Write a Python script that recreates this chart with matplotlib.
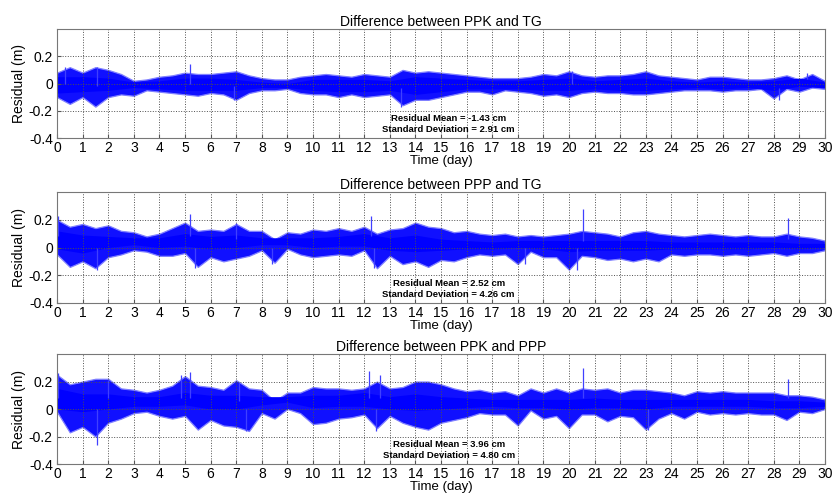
import numpy as np
import matplotlib.pyplot as plt

plt.rcParams['font.family'] = ['Liberation Sans', 'DejaVu Sans']

# half-day grid for the outer envelope, whole days for the dense core
days_half = np.arange(0, 30.01, 0.5)
days_full = np.arange(0, 31, 1)

titles = ['Difference between PPK and TG',
          'Difference between PPP and TG',
          'Difference between PPK and PPP']
stat_mean = ['-1.43', '2.52', '3.96']
stat_std = ['2.91', '4.26', '4.80']

# ---- PPK - TG ----
ppk_tg_hi = [0.08, 0.12, 0.08, 0.12, 0.10, 0.07, 0.02, 0.03, 0.05, 0.06,
             0.08, 0.07, 0.07, 0.08, 0.09, 0.06, 0.04, 0.03, 0.03, 0.05,
             0.06, 0.07, 0.06, 0.05, 0.07, 0.06, 0.05, 0.10, 0.08, 0.09,
             0.08, 0.07, 0.06, 0.05, 0.04, 0.04, 0.04, 0.05, 0.07, 0.06,
             0.09, 0.06, 0.05, 0.06, 0.06, 0.07, 0.09, 0.06, 0.05, 0.04,
             0.03, 0.05, 0.05, 0.04, 0.03, 0.03, 0.04, 0.06, 0.03, 0.07,
             0.02]
ppk_tg_lo = [-0.10, -0.15, -0.10, -0.17, -0.10, -0.08, -0.09, -0.05, -0.06, -0.07,
             -0.08, -0.09, -0.07, -0.08, -0.12, -0.07, -0.05, -0.05, -0.04, -0.07,
             -0.08, -0.08, -0.10, -0.08, -0.10, -0.09, -0.08, -0.16, -0.12, -0.12,
             -0.10, -0.08, -0.06, -0.06, -0.08, -0.05, -0.06, -0.07, -0.09, -0.08,
             -0.10, -0.07, -0.06, -0.07, -0.07, -0.08, -0.08, -0.07, -0.06, -0.05,
             -0.05, -0.05, -0.06, -0.05, -0.05, -0.04, -0.11, -0.04, -0.06, -0.03,
             -0.04]
ppk_tg_core_hi = [0.05, 0.05, 0.04, 0.01, 0.02, 0.04, 0.04, 0.03, 0.01, 0.00,
                  0.03, 0.03, 0.03, 0.02, 0.05, 0.04, 0.03, 0.02, 0.02, 0.03,
                  0.04, 0.02, 0.03, 0.04, 0.02, 0.01, 0.02, 0.01, 0.02, 0.04,
                  0.01]
ppk_tg_core_lo = [-0.07, -0.06, -0.05, -0.03, -0.04, -0.05, -0.05, -0.05, -0.03, -0.03,
                  -0.05, -0.06, -0.06, -0.05, -0.08, -0.06, -0.04, -0.04, -0.04, -0.05,
                  -0.05, -0.04, -0.05, -0.05, -0.04, -0.03, -0.04, -0.03, -0.05, -0.02,
                  -0.03]
ppk_tg_spike_day = [0.3, 1.55, 5.2, 6.9, 13.45, 20.1, 28.2, 29.3]
ppk_tg_spike_from = [0.0, -0.02, 0.0, -0.02, -0.03, 0.0, -0.03, 0.03]
ppk_tg_spike_to = [0.12, 0.12, 0.14, -0.12, -0.17, 0.095, -0.12, 0.075]

# ---- PPP - TG ----
ppp_tg_hi = [0.20, 0.15, 0.17, 0.14, 0.16, 0.12, 0.11, 0.08, 0.10, 0.14,
             0.18, 0.12, 0.13, 0.12, 0.17, 0.12, 0.12, 0.06, 0.11, 0.10,
             0.13, 0.12, 0.14, 0.12, 0.15, 0.10, 0.13, 0.14, 0.18, 0.15,
             0.14, 0.11, 0.12, 0.10, 0.09, 0.10, 0.08, 0.09, 0.08, 0.09,
             0.10, 0.12, 0.11, 0.10, 0.08, 0.11, 0.12, 0.10, 0.09, 0.08,
             0.09, 0.10, 0.09, 0.08, 0.09, 0.08, 0.08, 0.10, 0.08, 0.07,
             0.05]
ppp_tg_lo = [-0.05, -0.14, -0.10, -0.15, -0.07, -0.05, -0.02, -0.03, -0.06, -0.06,
             -0.04, -0.14, -0.07, -0.10, -0.08, -0.06, -0.02, -0.11, -0.01, -0.05,
             -0.07, -0.06, -0.05, -0.06, -0.02, -0.15, -0.06, -0.12, -0.10, -0.14,
             -0.09, -0.10, -0.07, -0.05, -0.06, -0.05, -0.12, -0.03, -0.07, -0.07,
             -0.16, -0.06, -0.07, -0.09, -0.08, -0.10, -0.08, -0.10, -0.05, -0.06,
             -0.05, -0.05, -0.06, -0.05, -0.06, -0.05, -0.04, -0.06, -0.04, -0.04,
             -0.02]
ppp_tg_core_hi = [0.12, 0.09, 0.08, 0.07, 0.07, 0.10, 0.08, 0.09, 0.07, 0.07,
                  0.07, 0.08, 0.10, 0.07, 0.09, 0.06, 0.05, 0.04, 0.05, 0.05,
                  0.05, 0.05, 0.05, 0.05, 0.04, 0.04, 0.04, 0.04, 0.04, 0.03,
                  0.03]
ppp_tg_core_lo = [-0.01, -0.04, 0.00, 0.02, 0.00, 0.01, -0.01, 0.00, 0.02, 0.02,
                  0.00, 0.01, 0.01, -0.02, -0.03, -0.02, -0.01, -0.01, 0.00, -0.01,
                  -0.03, -0.02, -0.02, -0.02, -0.01, -0.01, -0.01, -0.01, 0.00, -0.01,
                  0.00]
ppp_tg_spike_day = [0.05, 1.55, 5.2, 5.4, 7.0, 8.4, 12.25, 12.4, 18.3, 20.3, 20.55, 28.55]
ppp_tg_spike_from = [0.08, 0.0, 0.08, 0.0, 0.06, 0.0, 0.08, 0.0, 0.0, 0.0, 0.05, 0.06]
ppp_tg_spike_to = [0.23, -0.16, 0.245, -0.15, 0.18, -0.12, 0.23, -0.15, -0.12, -0.16, 0.28, 0.21]

# ---- PPK - PPP ----
ppk_ppp_hi = [0.25, 0.18, 0.20, 0.22, 0.22, 0.15, 0.14, 0.12, 0.14, 0.17,
              0.24, 0.17, 0.16, 0.14, 0.21, 0.15, 0.14, 0.06, 0.12, 0.12,
              0.16, 0.15, 0.15, 0.14, 0.15, 0.20, 0.15, 0.16, 0.20, 0.20,
              0.18, 0.15, 0.13, 0.14, 0.12, 0.13, 0.10, 0.15, 0.12, 0.15,
              0.12, 0.15, 0.14, 0.15, 0.12, 0.14, 0.14, 0.13, 0.12, 0.10,
              0.13, 0.12, 0.13, 0.12, 0.12, 0.12, 0.12, 0.10, 0.10, 0.09,
              0.07]
ppk_ppp_lo = [-0.02, -0.17, -0.13, -0.20, -0.10, -0.07, -0.03, -0.02, -0.05, -0.07,
              -0.05, -0.15, -0.08, -0.12, -0.13, -0.16, -0.03, -0.07, 0.00, -0.03,
              -0.11, -0.10, -0.07, -0.06, -0.04, -0.14, -0.05, -0.10, -0.13, -0.15,
              -0.10, -0.08, -0.06, -0.03, -0.04, -0.04, -0.12, -0.01, -0.07, -0.05,
              -0.14, -0.04, -0.04, -0.09, -0.05, -0.06, -0.15, -0.07, -0.03, -0.07,
              -0.02, -0.04, -0.03, -0.04, -0.03, -0.04, -0.04, -0.08, -0.02, -0.03,
              0.00]
ppk_ppp_core_hi = [0.15, 0.11, 0.11, 0.09, 0.09, 0.12, 0.10, 0.10, 0.09, 0.09,
                   0.10, 0.10, 0.12, 0.09, 0.11, 0.09, 0.08, 0.07, 0.07, 0.07,
                   0.07, 0.08, 0.07, 0.07, 0.07, 0.07, 0.07, 0.07, 0.06, 0.06,
                   0.05]
ppk_ppp_core_lo = [0.00, -0.02, 0.00, 0.02, 0.02, 0.03, 0.00, 0.00, 0.03, 0.05,
                   0.01, 0.02, 0.02, 0.00, -0.01, 0.00, 0.01, 0.02, 0.01, 0.01,
                   0.00, 0.01, 0.01, 0.00, 0.02, 0.02, 0.02, 0.02, 0.01, 0.01,
                   0.02]
ppk_ppp_spike_day = [0.05, 1.55, 2.0, 4.85, 5.2, 7.1, 7.4, 12.2, 12.45, 12.6, 20.55, 23.1, 28.55]
ppk_ppp_spike_from = [0.08, 0.0, 0.08, 0.08, 0.08, 0.06, 0.0, 0.08, 0.0, 0.08, 0.08, 0.0, 0.08]
ppk_ppp_spike_to = [0.26, -0.26, 0.21, 0.25, 0.27, 0.20, -0.16, 0.28, -0.16, 0.25, 0.30, -0.15, 0.22]

panels = [
    (ppk_tg_hi, ppk_tg_lo, ppk_tg_core_hi, ppk_tg_core_lo,
     ppk_tg_spike_day, ppk_tg_spike_from, ppk_tg_spike_to),
    (ppp_tg_hi, ppp_tg_lo, ppp_tg_core_hi, ppp_tg_core_lo,
     ppp_tg_spike_day, ppp_tg_spike_from, ppp_tg_spike_to),
    (ppk_ppp_hi, ppk_ppp_lo, ppk_ppp_core_hi, ppk_ppp_core_lo,
     ppk_ppp_spike_day, ppk_ppp_spike_from, ppk_ppp_spike_to),
]

fig = plt.figure(figsize=(8.32, 4.95), dpi=100)
boxes = [[0.0685, 0.7212, 0.923, 0.2202],
         [0.0685, 0.3879, 0.923, 0.2242],
         [0.0685, 0.0626, 0.923, 0.2222]]

for k, (hi, lo, chi, clo, sd, sf, st) in enumerate(panels):
    ax = fig.add_axes(boxes[k])
    ax.fill_between(days_half, lo, hi, facecolor='#1010ff', edgecolor='#8080ff', lw=0.9)
    ax.fill_between(days_full, clo, chi, color='#0000ff', lw=0)
    ax.vlines(sd, sf, st, color='#4040ff', lw=0.9)

    ax.set_xlim(0, 30)
    ax.set_ylim(-0.4, 0.4)
    ax.set_xticks(range(0, 31))
    ax.set_yticks([-0.4, -0.2, 0, 0.2])
    ax.set_yticklabels(['-0.4', '-0.2', '0', '0.2'])
    ax.grid(True, color='#505050', linestyle=':', linewidth=0.7)
    ax.axhline(0.4, color='#505050', linestyle=':', linewidth=0.7)
    ax.tick_params(direction='in', length=3, labelsize=10, color='#555555')
    ax.tick_params(axis='x', pad=2)
    ax.tick_params(axis='y', pad=3)
    for s in ax.spines.values():
        s.set_color('#777777')
        s.set_linewidth(0.8)

    ax.set_title(titles[k], fontsize=10, pad=2)
    ax.set_xlabel('Time (day)', fontsize=9.5, labelpad=0)
    ax.set_ylabel('Residual (m)', fontsize=10, labelpad=2)
    ax.text(15.3, -0.26, 'Residual Mean = ' + stat_mean[k] + ' cm',
            ha='center', va='center', fontsize=6.8, fontweight='bold')
    ax.text(15.3, -0.34, 'Standard Deviation = ' + stat_std[k] + ' cm',
            ha='center', va='center', fontsize=6.8, fontweight='bold')

plt.savefig('out.png', dpi=100)
